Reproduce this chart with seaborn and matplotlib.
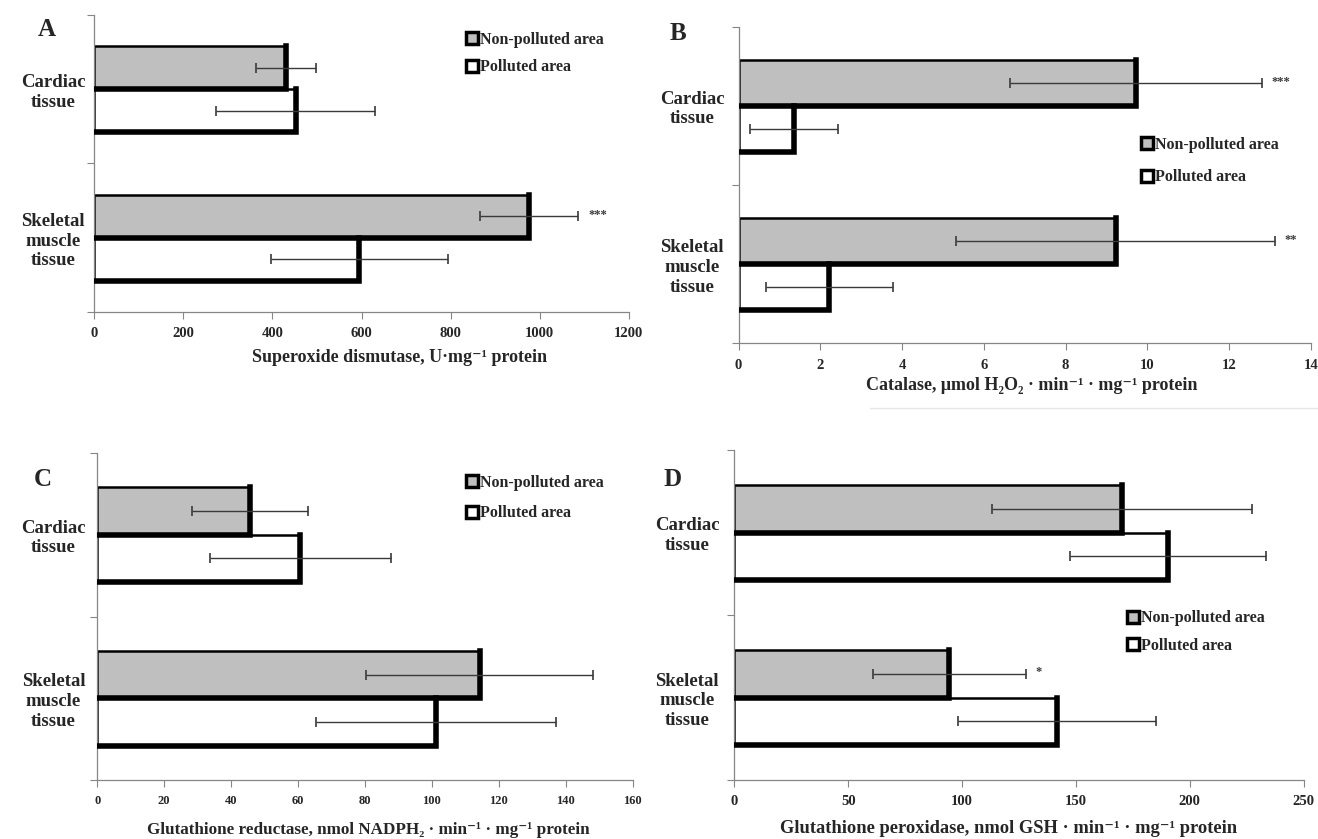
import matplotlib
matplotlib.use("Agg")
import matplotlib.pyplot as plt
from matplotlib.lines import Line2D
import seaborn as sns
import pandas as pd
import numpy as np

# ---------------- data ----------------
tissues = ["Cardiac\ntissue", "Skeletal\nmuscle\ntissue"]
areas = ["Non-polluted area", "Polluted area"]

sod_nonpolluted = [430, 977]
sod_polluted = [452, 595]
sod_nonpolluted_err = [68, 110]
sod_polluted_err = [179, 198]
sod_stars = ["", "***"]

cat_nonpolluted = [9.72, 9.22]
cat_polluted = [1.36, 2.22]
cat_nonpolluted_err = [3.07, 3.9]
cat_polluted_err = [1.07, 1.56]
cat_stars = ["***", "**"]

gr_nonpolluted = [45.7, 114.3]
gr_polluted = [60.7, 101.2]
gr_nonpolluted_err = [17.3, 34.0]
gr_polluted_err = [27.0, 35.8]
gr_stars = ["", ""]

gpx_nonpolluted = [170.3, 94.5]
gpx_polluted = [190.4, 141.7]
gpx_nonpolluted_err = [57.0, 33.5]
gpx_polluted_err = [43.0, 43.4]
gpx_stars = ["", "*"]

sod_ticks = [0, 200, 400, 600, 800, 1000, 1200]
cat_ticks = [0, 2, 4, 6, 8, 10, 12, 14]
gr_ticks = [0, 20, 40, 60, 80, 100, 120, 140, 160]
gpx_ticks = [0, 50, 100, 150, 200, 250]

sod_label = "Superoxide dismutase, U·mg⁻¹ protein"
cat_label = "Catalase, μmol H₂O₂ · min⁻¹ · mg⁻¹ protein"
gr_label = "Glutathione reductase, nmol NADPH₂ · min⁻¹ · mg⁻¹ protein"
gpx_label = "Glutathione peroxidase, nmol GSH · min⁻¹ · mg⁻¹ protein"

# ---------------- style ----------------
sns.set_theme(style="white")
FAM = ["Liberation Serif", "DejaVu Serif"]
plt.rcParams["font.family"] = FAM
plt.rcParams["font.weight"] = "bold"

GREY = "#BFBFBF"
SPINE = "#868686"
ERR = "#3a3a3a"

W, H = 1318, 839
fig = plt.figure(figsize=(W / 100, H / 100), dpi=100)


def px_axes(x0, x1, ytop, ybot):
    return fig.add_axes([x0 / W, 1 - ybot / H, (x1 - x0) / W, (ybot - ytop) / H])


panels = [
    dict(box=(94.3, 628.8, 15, 312), np=sod_nonpolluted, p=sod_polluted,
         npe=sod_nonpolluted_err, pe=sod_polluted_err, stars=sod_stars,
         ticks=sod_ticks, label=sod_label, tickfs=10.5, lab=(0.572, -0.125),
         labfs=13, leg=(466, 53.5, 0.7), letter="A", lpos=(47, 30), pad=29.5),
    dict(box=(738.6, 1311, 26.7, 343.3), np=cat_nonpolluted, p=cat_polluted,
         npe=cat_nonpolluted_err, pe=cat_polluted_err, stars=cat_stars,
         ticks=cat_ticks, label=cat_label, tickfs=10.5, lab=(0.513, -0.108),
         labfs=13, leg=(1141, 161, 1.05), letter="B", lpos=(678, 33), pad=33.5),
    dict(box=(97.2, 632.6, 453, 780), np=gr_nonpolluted, p=gr_polluted,
         npe=gr_nonpolluted_err, pe=gr_polluted_err, stars=gr_stars,
         ticks=gr_ticks, label=gr_label, tickfs=9, lab=(0.506, -0.128),
         labfs=12.3, leg=(466, 498, 0.9), letter="C", lpos=(43, 480), pad=31.5),
    dict(box=(734.3, 1303.6, 450, 780), np=gpx_nonpolluted, p=gpx_polluted,
         npe=gpx_nonpolluted_err, pe=gpx_polluted_err, stars=gpx_stars,
         ticks=gpx_ticks, label=gpx_label, tickfs=10.5, lab=(0.482, -0.121),
         labfs=13.3, leg=(1127, 632, 0.7), letter="D", lpos=(673, 479), pad=34),
]

for P in panels:
    ax = px_axes(*P["box"])
    df = pd.DataFrame({
        "tissue": tissues * 2,
        "area": [areas[0]] * 2 + [areas[1]] * 2,
        "value": list(P["np"]) + list(P["p"]),
    })
    sns.barplot(data=df, y="tissue", x="value", hue="area", order=tissues,
                hue_order=areas, orient="h", palette=[GREY, "white"],
                edgecolor="black", linewidth=1.8, width=0.58,
                errorbar=None, legend=False, ax=ax, zorder=2)

    errs = [P["npe"], P["pe"]]
    vals = [P["np"], P["p"]]
    bar_containers = list(ax.containers)
    for ci, cont in enumerate(bar_containers):
        centers = []
        for patch in cont.patches:
            x0 = patch.get_x()
            w = patch.get_width()
            y = patch.get_y()
            h = patch.get_height()
            centers.append(y + h / 2)
            # shadow along bottom and right edges (Excel-like look)
            ax.plot([x0, x0 + w, x0 + w], [y + h, y + h, y], color="black",
                    lw=4.0, solid_capstyle="projecting",
                    solid_joinstyle="miter", zorder=3)
        ax.errorbar(vals[ci], centers, xerr=errs[ci], fmt="none",
                    ecolor=ERR, elinewidth=1.0, capsize=3.5, capthick=1.2,
                    zorder=4)
        if ci == 0:
            for v, e, c, s in zip(vals[ci], errs[ci], centers, P["stars"]):
                if s:
                    ax.annotate(s, xy=(v + e, c), xytext=(7, 1),
                                textcoords="offset points", va="center",
                                ha="left", fontsize=9, color=ERR,
                                family=FAM)

    ax.set_xlim(P["ticks"][0], P["ticks"][-1])
    ax.set_ylim(1.5, -0.5)
    ax.set_xticks(P["ticks"])
    ax.set_xticklabels([str(t) for t in P["ticks"]], fontsize=P["tickfs"],
                       fontweight="bold", family=FAM)
    ax.set_yticks([-0.5, 0.5, 1.5])
    ax.set_yticklabels(["", "", ""])
    ax.set_yticks([0, 1], minor=True)
    ax.set_yticklabels(tissues, minor=True, fontsize=13.5, fontweight="bold",
                       family=FAM, multialignment="center", linespacing=1.2)
    ax.tick_params(axis="y", which="major", length=5, width=0.8,
                   color=SPINE, direction="out", left=True)
    ax.tick_params(axis="x", which="major", length=5, width=0.8,
                   color=SPINE, direction="out", bottom=True, pad=6)
    for lbl in ax.get_yticklabels(minor=True):
        lbl.set_horizontalalignment("center")
    ax.tick_params(axis="y", which="minor", length=0, pad=P["pad"])

    ax.set_ylabel("")
    ax.set_xlabel(P["label"], fontsize=P["labfs"], fontweight="bold", family=FAM)
    ax.xaxis.set_label_coords(*P["lab"])
    ax.xaxis.label.set_verticalalignment("top")
    for sp in ["top", "right"]:
        ax.spines[sp].set_visible(False)
    for sp in ["left", "bottom"]:
        ax.spines[sp].set_color(SPINE)
        ax.spines[sp].set_linewidth(0.9)
    ax.set_facecolor("white")

    handles = [Line2D([], [], marker="s", markersize=8.5, markerfacecolor=c,
                      markeredgecolor="black", markeredgewidth=2.5,
                      linestyle="none") for c in [GREY, "white"]]
    lx, ly, lsp = P["leg"]
    ax.legend(handles, areas, loc="center left",
              bbox_to_anchor=(lx / W, 1 - ly / H),
              bbox_transform=fig.transFigure, frameon=False, borderpad=0,
              borderaxespad=0, handlelength=0.7, handletextpad=0.15,
              labelspacing=lsp, prop=dict(family=FAM, weight="bold", size=11.5))

    fig.text(P["lpos"][0] / W, 1 - P["lpos"][1] / H, P["letter"],
             fontsize=18, fontweight="bold", family=FAM,
             ha="center", va="center")

# faint separator line below panel B
fig.add_artist(Line2D([870 / W, 1.0], [1 - 408 / H, 1 - 408 / H],
                      transform=fig.transFigure, color="#e6e6e6", lw=1.0))

fig.savefig("out.png", dpi=100, facecolor="white")
